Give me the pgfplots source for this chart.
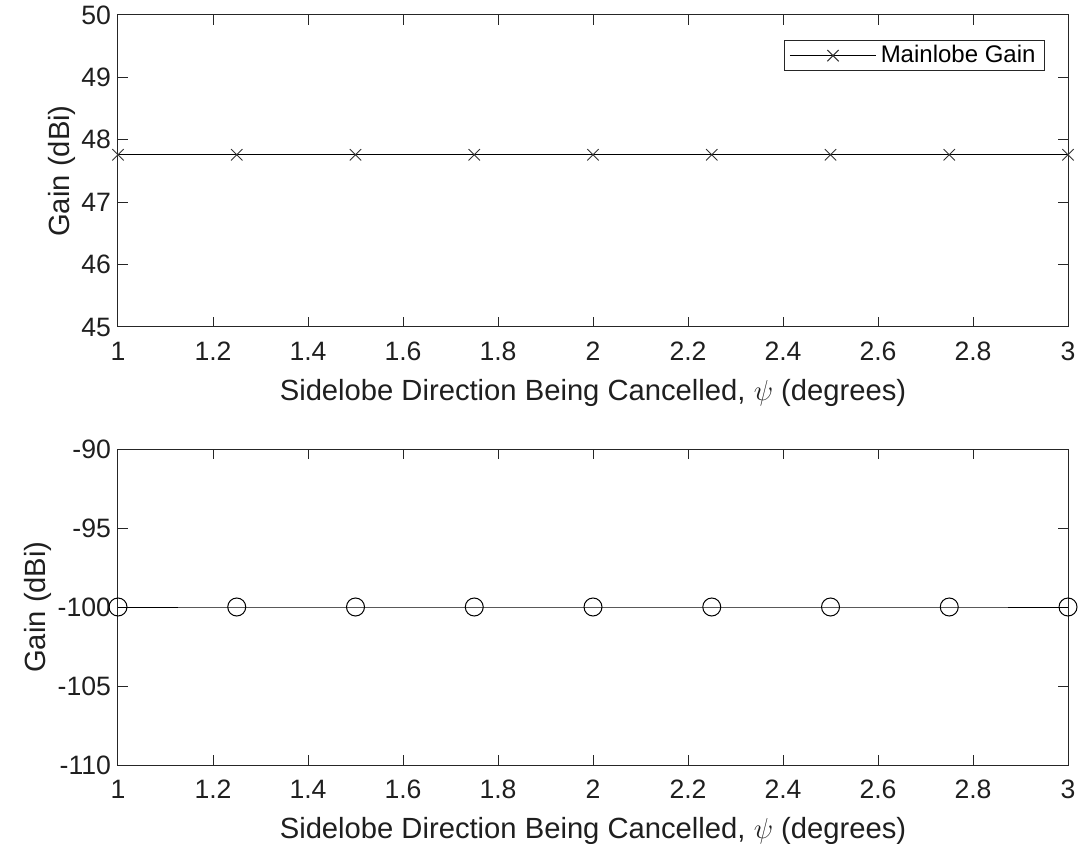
\documentclass[border=0pt]{standalone}
\usepackage{pgfplots}
\pgfplotsset{compat=1.18}
\usepackage{fontspec}
\setmainfont{Liberation Sans}
\definecolor{axgray}{RGB}{38,38,38}
\begin{document}
\begin{tikzpicture}
\pgfplotsset{
  myax/.style={
    scale only axis,
    width=475pt,
    xmin=1, xmax=3,
    xtick={1,1.2,...,3.01},
    xticklabels={1,1.2,1.4,1.6,1.8,2,2.2,2.4,2.6,2.8,3},
    tick align=inside,
    major tick length=5pt,
    axis line style={axgray, line width=0.5pt},
    every tick/.style={axgray, line width=0.5pt},
    /pgf/number format/assume math mode=true,
    ticklabel style={font=\fontsize{13.3}{15}\selectfont, text=black!88},
    xticklabel style={yshift=-4pt},
    label style={font=\fontsize{14.6}{17}\selectfont, text=black!88},
    xlabel={Sidelobe Direction Being Cancelled, $\psi$ (degrees)},
    ylabel={Gain (dBi)},
    xlabel style={yshift=-2.5pt},
    ylabel style={yshift=-4pt},
  }
}
\begin{axis}[myax, name=top, at={(0,0)}, anchor=north west, height=156pt,
  ymin=45, ymax=50, ytick={45,46,47,48,49,50},
  legend style={at={(1,1)}, anchor=north east, xshift=-11.5pt, yshift=-12.5pt,
    draw=axgray, line width=0.5pt, font=\fontsize{12}{14}\selectfont, inner xsep=2.5pt, inner ysep=0.5pt},
  legend cell align=left,
  legend image code/.code={\draw[mark repeat=2,mark phase=2] plot coordinates {(0cm,0cm) (0.76cm,0cm) (1.52cm,0cm)};},
]
\addplot[black, line width=0.5pt, mark=x, mark size=4pt, mark options={black!80}]
  coordinates {(1,47.76) (1.25,47.76) (1.5,47.76) (1.75,47.76) (2,47.76) (2.25,47.76) (2.5,47.76) (2.75,47.76) (3,47.76)};
\addlegendentry{Mainlobe Gain}
\end{axis}
\begin{axis}[myax, at={(0,-217pt)}, anchor=north west, height=158pt,
  ymin=-110, ymax=-90, ytick={-110,-105,-100,-95,-90},
]
\addplot[black, line width=0.5pt, mark=o, mark size=4.5pt, mark options={black}]
  coordinates {(1,-100) (1.25,-100) (1.5,-100) (1.75,-100) (2,-100) (2.25,-100) (2.5,-100) (2.75,-100) (3,-100)};
\end{axis}
\pgfresetboundingbox
\path[use as bounding box] (-59pt,7.5pt) rectangle (486pt,-414.5pt);
\end{tikzpicture}
\end{document}
